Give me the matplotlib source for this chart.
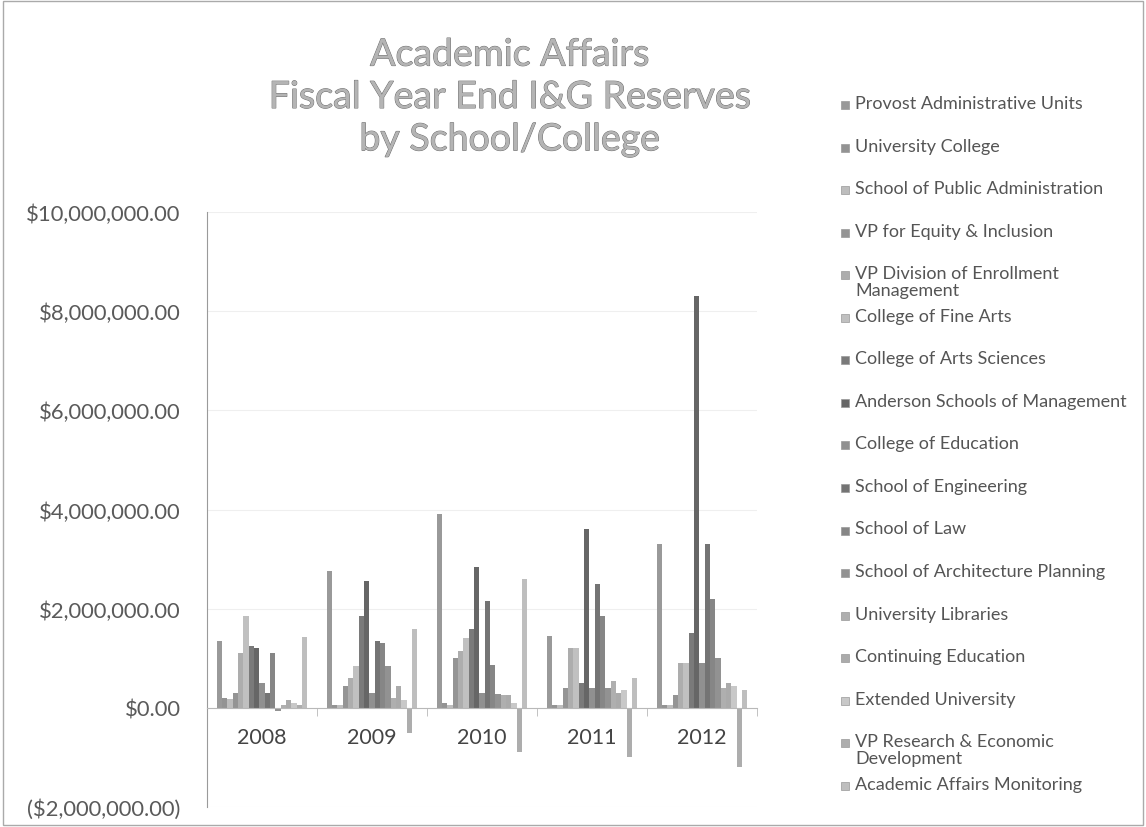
import matplotlib
matplotlib.use("Agg")
import matplotlib.pyplot as plt
import matplotlib.patheffects as pe
import numpy as np
from matplotlib.patches import Rectangle
from matplotlib.ticker import FuncFormatter, FixedLocator

plt.rcParams["font.family"] = ["Lato", "DejaVu Sans"]

years = ["2008", "2009", "2010", "2011", "2012"]
units = [
    "Provost Administrative Units",
    "University College",
    "School of Public Administration",
    "VP for Equity & Inclusion",
    "VP Division of Enrollment\nManagement",
    "College of Fine Arts",
    "College of Arts Sciences",
    "Anderson Schools of Management",
    "College of Education",
    "School of Engineering",
    "School of Law",
    "School of Architecture Planning",
    "University Libraries",
    "Continuing Education",
    "Extended University",
    "VP Research & Economic\nDevelopment",
    "Academic Affairs Monitoring",
]

# reserves in millions of dollars, one value per unit (legend order)
fy2008 = [1.35, 0.20, 0.17, 0.30, 1.10, 1.85, 1.25, 1.20, 0.50, 0.30, 1.10, -0.07, 0.05, 0.15, 0.10, 0.05, 1.42]
fy2009 = [2.76, 0.05, 0.05, 0.45, 0.60, 0.85, 1.85, 2.56, 0.30, 1.35, 1.30, 0.85, 0.20, 0.45, 0.15, -0.50, 1.58]
fy2010 = [3.90, 0.10, 0.05, 1.00, 1.15, 1.40, 1.60, 2.85, 0.30, 2.15, 0.87, 0.27, 0.25, 0.25, 0.10, -0.90, 2.60]
fy2011 = [1.45, 0.05, 0.05, 0.40, 1.20, 1.20, 0.50, 3.60, 0.40, 2.50, 1.85, 0.40, 0.55, 0.30, 0.35, -1.00, 0.60]
fy2012 = [3.30, 0.05, 0.05, 0.25, 0.90, 0.90, 1.50, 8.30, 0.90, 3.30, 2.20, 1.00, 0.40, 0.50, 0.45, -1.20, 0.35]

# Excel 2007 default series colours as they come out on a grey scan
grays = ["#999999", "#939393", "#bdbdbd", "#949494", "#adadad", "#c0c0c0",
         "#7a7a7a", "#666666", "#909090", "#747474", "#868686", "#929292",
         "#afafaf", "#ababab", "#c8c8c8", "#adadad", "#bebebe"]

values = np.array([fy2008, fy2009, fy2010, fy2011, fy2012]).T * 1e6
n_series, n_years = values.shape

fig = plt.figure(figsize=(11.46, 8.28), dpi=100)
W, H = 1146, 828
ax = fig.add_axes([207 / W, 1 - 808 / H, 550 / W, (808 - 213) / H])

group = 0.827
bw = group / n_series
x = np.arange(n_years)
for i in range(n_series):
    ax.bar(x - group / 2 + (i + 0.5) * bw, values[i], width=bw, color=grays[i],
           edgecolor="none", zorder=2)

ax.set_xlim(-0.5, n_years - 0.5)
ax.set_ylim(-2e6, 10e6)
ax.set_yticks(np.arange(-2e6, 10.1e6, 2e6))


def money(v, pos):
    if v < 0:
        return f"(${-v:,.2f})"
    return f"${v:,.2f}"


ax.yaxis.set_major_formatter(FuncFormatter(money))
ax.tick_params(axis="y", length=0, pad=19, labelsize=15.8, labelcolor="#5a5a5a")
ax.grid(axis="y", color="#efefef", linewidth=0.8, zorder=0)

ax.spines["bottom"].set_position(("data", 0))
ax.spines["bottom"].set_color("#b8b8b8")
ax.spines["left"].set_color("#9a9a9a")
ax.spines["top"].set_visible(False)
ax.spines["right"].set_visible(False)
ax.set_xticks(x)
ax.set_xticklabels(years)
ax.xaxis.set_minor_locator(FixedLocator(np.arange(-0.5, n_years, 1.0)))
ax.tick_params(axis="x", which="major", length=0, pad=14, labelsize=15.5, labelcolor="#444444")
ax.tick_params(axis="x", which="minor", length=6, color="#b8b8b8", direction="out")

title = fig.text(0.445, 1 - 98 / H, "Academic Affairs\nFiscal Year End I&G Reserves\nby School/College",
                 ha="center", va="center", fontsize=27, color="#b4b4b4", linespacing=1.22)
title.set_path_effects([pe.withStroke(linewidth=0.7, foreground="#6e6e6e")])

# legend, laid out the way Excel stacks entries in fixed slots
for i, name in enumerate(units):
    y = 1 - (106 + 42.55 * i) / H
    fig.patches.append(Rectangle((841 / W, y - 4 / H), 8 / W, 8 / H, transform=fig.transFigure,
                                 facecolor=grays[i], edgecolor="#999999", linewidth=0.5))
    fig.text(855 / W, y + 10 / H, name, ha="left", va="top", fontsize=13,
             color="#555555", linespacing=1.05)

fig.patches.append(Rectangle((0.003, 0.003), 0.994, 0.994, transform=fig.transFigure,
                             facecolor="none", edgecolor="#aaaaaa", linewidth=1))

fig.savefig("out.png", dpi=100)
